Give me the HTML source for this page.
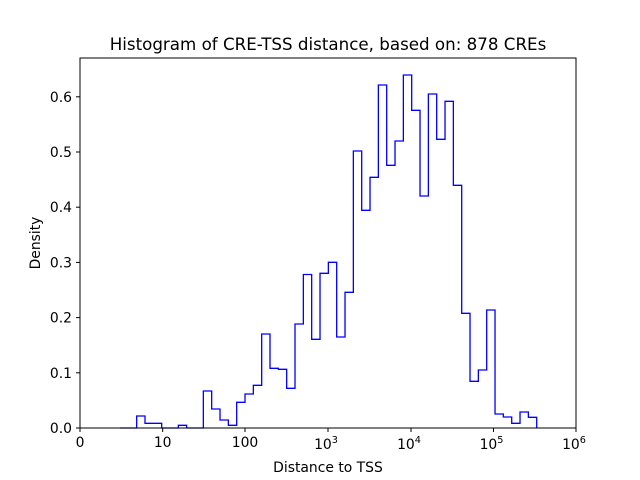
<!DOCTYPE html>
<html><head><meta charset="utf-8"><style>
body{margin:0;background:#fff}
svg{display:block;font-family:"DejaVu Sans","Liberation Sans",sans-serif}
</style></head><body>
<svg width="640" height="480" viewBox="0 0 640 480" xmlns="http://www.w3.org/2000/svg">
<rect width="640" height="480" fill="#fff"/>
<path id="h" fill="none" stroke="#0000ff" stroke-width="1.3" d=""/>
<rect x="80" y="58" width="496" height="370" fill="none" stroke="#000" stroke-width="1"/>
<g stroke="#000" stroke-width="1">
<line x1="80" y1="428" x2="80" y2="432"/><line x1="162.7" y1="428" x2="162.7" y2="432"/><line x1="245" y1="428" x2="245" y2="432"/><line x1="328" y1="428" x2="328" y2="432"/><line x1="411" y1="428" x2="411" y2="432"/><line x1="493.5" y1="428" x2="493.5" y2="432"/><line x1="576" y1="428" x2="576" y2="432"/>
<line x1="76" y1="428" x2="80" y2="428"/><line x1="76" y1="372.8" x2="80" y2="372.8"/><line x1="76" y1="317.6" x2="80" y2="317.6"/><line x1="76" y1="262.4" x2="80" y2="262.4"/><line x1="76" y1="207.2" x2="80" y2="207.2"/><line x1="76" y1="152" x2="80" y2="152"/><line x1="76" y1="96.8" x2="80" y2="96.8"/>
</g>
<g font-size="13.9" fill="#000" text-anchor="middle">
<text x="80" y="447">0</text><text x="162.7" y="447">10</text><text x="245" y="447">100</text>
<text x="326" y="449">10<tspan font-size="9.7" dy="-6">3</tspan></text>
<text x="409" y="449">10<tspan font-size="9.7" dy="-6">4</tspan></text>
<text x="491.5" y="449">10<tspan font-size="9.7" dy="-6">5</tspan></text>
<text x="574" y="449">10<tspan font-size="9.7" dy="-6">6</tspan></text>
</g>
<g font-size="13.9" fill="#000" text-anchor="end">
<text x="72" y="433">0.0</text><text x="72" y="377.8">0.1</text><text x="72" y="322.6">0.2</text><text x="72" y="267.4">0.3</text><text x="72" y="212.2">0.4</text><text x="72" y="157">0.5</text><text x="72" y="101.8">0.6</text>
</g>
<text x="328" y="472" font-size="13.9" text-anchor="middle">Distance to TSS</text>
<text x="0" y="0" font-size="13.9" text-anchor="middle" transform="translate(40,243) rotate(-90)">Density</text>
<text x="328" y="50" font-size="16.7" text-anchor="middle">Histogram of CRE-TSS distance, based on: 878 CREs</text>
</svg>
<script>
var y=[428,428,416,423.3,423.3,428,428,425.3,428,428,391,409,420,425.3,402.3,394,385.3,334,368.3,369.3,388.3,324,274.5,339.3,273.3,262.3,337,292.3,151,210.3,177.3,85,165.3,141,75,110.3,196,94,139.3,101.3,185.3,313.3,381.3,370,310,414,417,423.3,412,417.3];
var w=416.7/50,d="M120 428";
for(var i=0;i<y.length;i++){d+=" V"+y[i]+" H"+(120+w*(i+1)).toFixed(2);}
d+=" V428";
document.getElementById("h").setAttribute("d",d);
</script>
</body></html>
